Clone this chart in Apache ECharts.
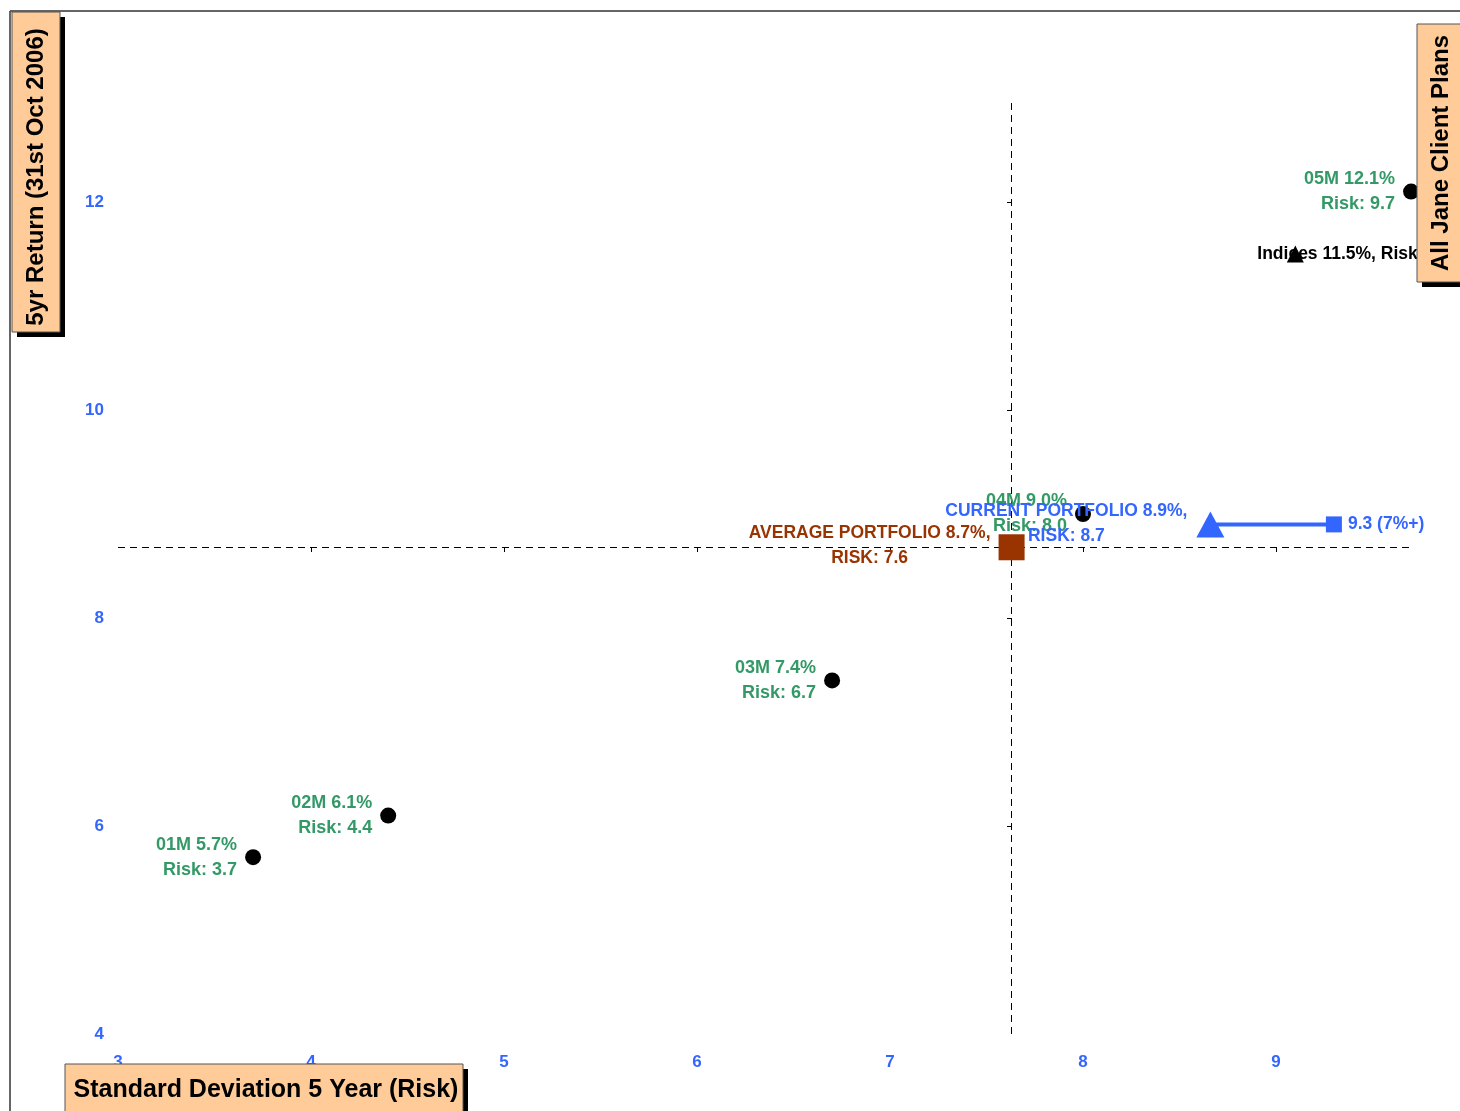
<!DOCTYPE html>
<html><head><meta charset="utf-8">
<script src="https://cdn.jsdelivr.net/npm/echarts@6/dist/echarts.min.js"></script>
<style>html,body{margin:0;padding:0;background:#fff;overflow:hidden}#c{width:1460px;height:1111px}</style>
</head><body><div id="c"></div>
<script>
// ---- data ----
const planNames = ['01M', '02M', '03M', '04M', '05M'];
const planRisk = [3.7, 4.4, 6.7, 8.0, 9.7];
const planReturn = [5.7, 6.1, 7.4, 9.0, 12.1];
const indicesRisk = [9.1];
const indicesReturn = [11.5];
const avgRisk = [7.63];
const avgReturn = [8.68];
const currentRisk = [8.66];
const currentReturn = [8.9];
const targetRisk = [9.3];
const targetLabel = ['9.3 (7%+)'];
const xTicks = [3, 4, 5, 6, 7, 8, 9];
const yTicks = [4, 6, 8, 10, 12];
const xRange = [3, 9.95];
const yRange = [4, 13];
const refLineEnd = [9.7];
const titles = {
  x: 'Standard Deviation 5 Year (Risk)',
  y: '5yr Return (31st Oct 2006)',
  right: 'All Jane Client Plans'
};

const FONT = '"Liberation Sans", Arial, Helvetica, sans-serif';
const GREEN = '#339966', BLUE = '#3366FF', BROWN = '#993300', PEACH = '#FFCC99';
const PX_X = 193, PX_Y = 104;

const chart = echarts.init(document.getElementById('c'), null, {renderer: 'canvas'});

const baseAxis = {
  type: 'value', splitLine: {show: false}, axisLine: {show: false}
};

function titleBox(x, y, w, h, tx, ty, text, rot, size) {
  return [
    {type: 'rect', z: 100, shape: {x: x + 5, y: y + 5, width: w, height: h}, style: {fill: '#000'}},
    {type: 'rect', z: 101, shape: {x: x, y: y, width: w, height: h}, style: {fill: PEACH, stroke: '#555', lineWidth: 1}},
    {type: 'text', z: 102, x: tx, y: ty, rotation: rot,
      style: {text: text, font: 'bold ' + size + 'px ' + FONT, fill: '#000',
        align: 'center', verticalAlign: 'middle', textAlign: 'center', textVerticalAlign: 'middle'}}
  ];
}

const option = {
  animation: false,
  backgroundColor: '#fff',
  grid: {
    left: 118, top: 98,
    width: (xRange[1] - xRange[0]) * PX_X,
    height: (yRange[1] - yRange[0]) * PX_Y,
    containLabel: false
  },
  xAxis: [
    Object.assign({}, baseAxis, {
      min: xRange[0], max: xRange[1], interval: 1, position: 'bottom',
      axisTick: {show: false},
      axisLabel: {customValues: xTicks, color: BLUE, fontWeight: 'bold', fontSize: 17, fontFamily: FONT, margin: 20}
    }),
    Object.assign({}, baseAxis, {
      min: xRange[0], max: xRange[1], interval: 1, position: 'bottom',
      offset: -Math.round((avgReturn[0] - yRange[0]) * PX_Y),
      axisTick: {show: true, customValues: xTicks.slice(1), length: 5, lineStyle: {color: '#000', width: 1}},
      axisLabel: {show: false}
    })
  ],
  yAxis: [
    Object.assign({}, baseAxis, {
      min: yRange[0], max: yRange[1], interval: 2, position: 'left',
      axisTick: {show: false},
      axisLabel: {customValues: yTicks, color: BLUE, fontWeight: 'bold', fontSize: 17, fontFamily: FONT, margin: 14, padding: [4, 0, 0, 0]}
    }),
    Object.assign({}, baseAxis, {
      min: yRange[0], max: yRange[1], interval: 2, position: 'left',
      offset: -Math.round((avgRisk[0] - xRange[0]) * PX_X),
      axisTick: {show: true, customValues: yTicks.slice(1), length: 5, lineStyle: {color: '#000', width: 1}},
      axisLabel: {show: false}
    })
  ],
  series: [
    {
      type: 'line', name: 'reference', z: 1, data: [],
      markLine: {
        silent: true, symbol: 'none', animation: false,
        label: {show: false},
        lineStyle: {color: '#000', width: 1, type: [7, 5]},
        data: [
          [{coord: [avgRisk[0], yRange[0]]}, {coord: [avgRisk[0], yRange[1]]}],
          [{coord: [xRange[0], avgReturn[0]]}, {coord: [refLineEnd[0], avgReturn[0]]}]
        ]
      }
    },
    {
      type: 'scatter', name: 'plans', z: 5,
      symbol: 'circle', symbolSize: 16,
      itemStyle: {color: '#000', opacity: 1},
      data: planRisk.map((r, i) => ({name: planNames[i], value: [r, planReturn[i]]})),
      label: {
        show: true, position: 'left', distance: 8, color: GREEN, fontWeight: 'bold',
        fontSize: 18, fontFamily: FONT, lineHeight: 25,
        formatter: p => p.name + ' ' + p.value[1].toFixed(1) + '%\nRisk: ' + p.value[0].toFixed(1)
      }
    },
    {
      type: 'scatter', name: 'indices', z: 5,
      symbol: 'triangle', symbolSize: 17,
      itemStyle: {color: '#000', opacity: 1},
      data: indicesRisk.map((r, i) => [r, indicesReturn[i]]),
      label: {
        show: true, position: 'inside', align: 'left', offset: [-38, 0], color: '#000',
        fontWeight: 'bold', fontSize: 17.5, fontFamily: FONT,
        formatter: p => 'Indices ' + p.value[1].toFixed(1) + '%, Risk: ' + p.value[0].toFixed(1)
      }
    },
    {
      type: 'scatter', name: 'average', z: 6,
      symbol: 'rect', symbolSize: 26,
      itemStyle: {color: BROWN, opacity: 1},
      data: avgRisk.map((r, i) => [r, avgReturn[i]]),
      label: {
        show: true, position: 'inside', offset: [-142, -2], color: BROWN, align: 'center',
        fontWeight: 'bold', fontSize: 17.5, fontFamily: FONT, lineHeight: 25,
        formatter: p => 'AVERAGE PORTFOLIO ' + p.value[1].toFixed(1) + '%,\nRISK: ' + p.value[0].toFixed(1)
      }
    },
    {
      type: 'line', name: 'current', z: 7,
      lineStyle: {color: BLUE, width: 4},
      itemStyle: {color: BLUE, opacity: 1},
      showAllSymbol: true,
      data: [
        {
          value: [currentRisk[0], currentReturn[0]], symbol: 'triangle', symbolSize: [28, 26],
          label: {
            show: true, position: 'inside', offset: [-144, -1], align: 'center', color: BLUE,
            fontWeight: 'bold', fontSize: 17.5, fontFamily: FONT, lineHeight: 25,
            formatter: 'CURRENT PORTFOLIO ' + currentReturn[0].toFixed(1) + '%,\nRISK: ' + currentRisk[0].toFixed(1)
          }
        },
        {
          value: [targetRisk[0], currentReturn[0]], symbol: 'rect', symbolSize: 16,
          label: {
            show: true, position: 'right', distance: 6, color: BLUE,
            fontWeight: 'bold', fontSize: 17.5, fontFamily: FONT,
            formatter: targetLabel[0]
          }
        }
      ]
    }
  ],
  graphic: [
    {type: 'line', z: 99, shape: {x1: 10, y1: 11, x2: 1460, y2: 11}, style: {stroke: '#333', lineWidth: 1.5}},
    {type: 'line', z: 99, shape: {x1: 10, y1: 11, x2: 10, y2: 1111}, style: {stroke: '#333', lineWidth: 1.5}}
  ]
    .concat(titleBox(12, 12, 48, 320, 36, 177, titles.y, Math.PI / 2, 24))
    .concat(titleBox(1417, 24, 50, 258, 1441, 153, titles.right, Math.PI / 2, 24))
    .concat(titleBox(65, 1064, 398, 60, 266, 1090, titles.x, 0, 25))
};

chart.setOption(option);
</script>
</body></html>
